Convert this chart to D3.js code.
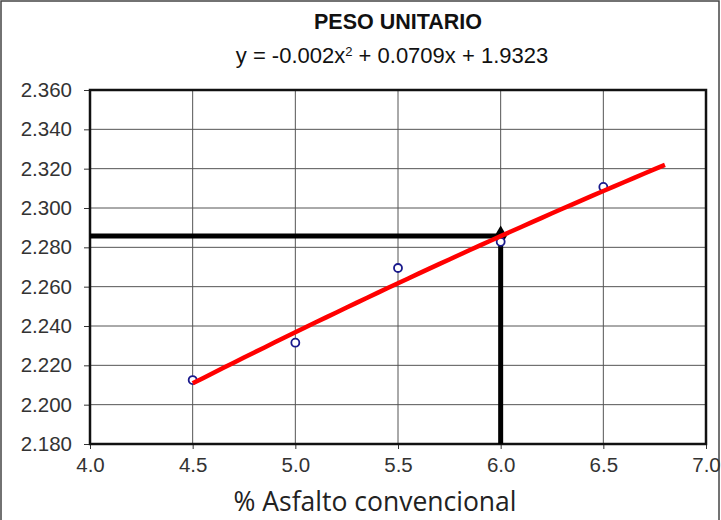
<!DOCTYPE html>
<html><head><meta charset="utf-8">
<script src="https://cdn.jsdelivr.net/npm/d3@7"></script>
<style>body{margin:0;background:#fff;}svg{display:block;}</style>
</head><body>
<svg id="c" width="721" height="520"></svg>
<script>
const title = "PESO UNITARIO";
const equationText = ["y = -0.002x", "2", " + 0.0709x + 1.9323"];
const xLabel = "% Asfalto convencional";
const pctAsfalto = [4.5, 5.0, 5.5, 6.0, 6.5];
const pesoUnitario = [2.2125, 2.2315, 2.2695, 2.2828, 2.3107];
const coefA = -0.002, coefB = 0.0709, coefC = 1.9323;
const fitRange = [4.5, 6.8];
const optimo = [6.0, 2.2857];
const xTicks = [4.0, 4.5, 5.0, 5.5, 6.0, 6.5, 7.0];
const yTicks = [2.18, 2.2, 2.22, 2.24, 2.26, 2.28, 2.3, 2.32, 2.34, 2.36];

const svg = d3.select("#c");
const L = 90, R = 706, T = 90, B = 444;
const x = d3.scaleLinear().domain([4, 7]).range([L, R]);
const y = d3.scaleLinear().domain([2.18, 2.36]).range([B, T]);

svg.append("rect").attr("x", 1).attr("y", 1).attr("width", 718).attr("height", 530)
  .attr("fill", "none").attr("stroke", "#444").attr("stroke-width", 1.5);

// grid
svg.append("g").selectAll("line").data(yTicks).join("line")
  .attr("x1", L).attr("x2", R).attr("y1", d => y(d)).attr("y2", d => y(d))
  .attr("stroke", "#555").attr("stroke-width", 1);
svg.append("g").selectAll("line").data(xTicks).join("line")
  .attr("y1", T).attr("y2", B).attr("x1", d => x(d)).attr("x2", d => x(d))
  .attr("stroke", "#555").attr("stroke-width", 1);

// axes
const yAxis = svg.append("g").attr("transform", `translate(${L},0)`)
  .call(d3.axisLeft(y).tickValues(yTicks).tickFormat(d3.format(".3f")).tickSize(6).tickPadding(12));
const xAxis = svg.append("g").attr("transform", `translate(0,${B})`)
  .call(d3.axisBottom(x).tickValues(xTicks).tickFormat(d3.format(".1f")).tickSize(5).tickPadding(8));
[yAxis, xAxis].forEach(g => {
  g.select(".domain").remove();
  g.selectAll(".tick line").attr("stroke", "#333");
  g.selectAll("text").attr("font-family", "Liberation Sans, Arial, sans-serif")
    .attr("font-size", 20.5).attr("fill", "#333");
});

// plot border
svg.append("rect").attr("x", L).attr("y", T).attr("width", R - L).attr("height", B - T)
  .attr("fill", "none").attr("stroke", "#111").attr("stroke-width", 2.5);

// black optimum lines
svg.append("path")
  .attr("d", d3.line()([[x(4), y(optimo[1])], [x(optimo[0]), y(optimo[1])], [x(optimo[0]), y(2.18)]]))
  .attr("fill", "none").attr("stroke", "#000").attr("stroke-width", 5);
svg.append("path").attr("d", d3.symbol(d3.symbolDiamond, 130)())
  .attr("transform", `translate(${x(optimo[0])},${y(optimo[1])})`).attr("fill", "#000");

// points
svg.append("g").selectAll("circle").data(pctAsfalto).join("circle")
  .attr("cx", d => x(d)).attr("cy", (d, i) => y(pesoUnitario[i])).attr("r", 4)
  .attr("fill", "#fff").attr("stroke", "#1a1a8c").attr("stroke-width", 1.8);

// fit curve
const fitX = d3.range(fitRange[0], fitRange[1] + 0.001, 0.05);
svg.append("path")
  .attr("d", d3.line().x(d => x(d)).y(d => y(coefA * d * d + coefB * d + coefC))(fitX))
  .attr("fill", "none").attr("stroke", "#f00").attr("stroke-width", 4.5).attr("stroke-linecap", "butt");

// titles
svg.append("text").attr("x", (L + R) / 2).attr("y", 29).attr("text-anchor", "middle")
  .attr("font-family", "Liberation Sans, Arial, sans-serif").attr("font-weight", "bold")
  .attr("font-size", 21.5).attr("fill", "#111").text(title);
const eq = svg.append("text").attr("x", (L + R) / 2 - 6).attr("y", 63).attr("text-anchor", "middle")
  .attr("font-family", "Liberation Sans, Arial, sans-serif").attr("font-size", 22).attr("fill", "#111");
eq.append("tspan").text(equationText[0]);
eq.append("tspan").attr("dy", -7).attr("font-size", 13).text(equationText[1]);
eq.append("tspan").attr("dy", 7).text(equationText[2]);

svg.append("text").attr("x", 375).attr("y", 511).attr("text-anchor", "middle")
  .attr("font-family", "Open Sans, sans-serif").attr("font-size", 26.5).attr("fill", "#222").text(xLabel);
</script>
</body></html>
